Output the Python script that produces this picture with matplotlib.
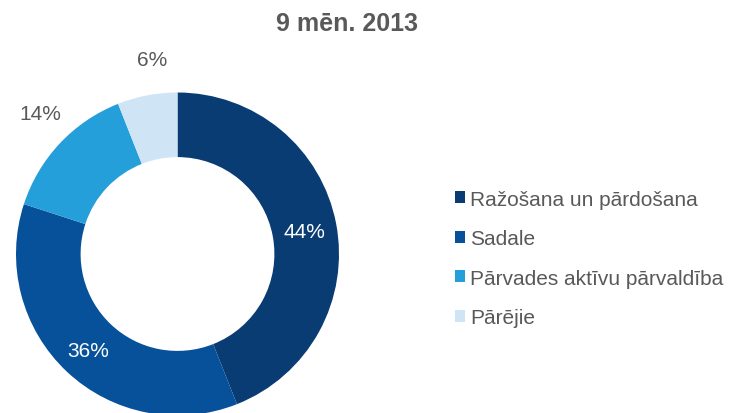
import matplotlib
matplotlib.use("Agg")
import matplotlib.pyplot as plt

title = "9 mēn. 2013"
categories = ["Ražošana un pārdošana", "Sadale", "Pārvades aktīvu pārvaldība", "Pārējie"]
values = [44, 36, 14, 6]
colors = ["#0a3c74", "#06519a", "#259fd9", "#cfe4f5"]
label_colors = ["white", "white", "#595959", "#595959"]

plt.rcParams['font.family'] = ['Liberation Sans', 'DejaVu Sans']

W, H = 731, 414
fig = plt.figure(figsize=(W / 100, H / 100), dpi=100)
cx, cy, R = 177.5, 255, 161.5
ax = fig.add_axes([(cx - R) / W, (H - cy - R) / H, 2 * R / W, 2 * R / H])
wedges, _ = ax.pie(values, colors=colors, startangle=90, counterclock=False,
                   radius=1, wedgeprops=dict(width=0.4, linewidth=0))
ax.set_xlim(-1, 1)
ax.set_ylim(-1, 1)
ax.axis("off")

# percentage labels (pixel positions)
label_pos = [(304, 233), (88, 352), (40, 114), (152, 61)]
for v, (px, py), c in zip(values, label_pos, label_colors):
    fig.text(px / W, 1 - py / H, f"{v}%", color=c, fontsize=15,
             ha="center", va="center")

fig.text(347.5 / W, 1 - 24 / H, title, fontsize=18, fontweight="bold",
         color="#595959", ha="center", va="center")

leg = fig.legend(wedges, categories, loc="upper left",
                 bbox_to_anchor=(436 / W, 1 - 172 / H), frameon=False,
                 fontsize=15, handlelength=0.5, handleheight=0.5,
                 handletextpad=0.25, labelspacing=0.98, labelcolor="#595959")

fig.savefig("out.png", dpi=100)
